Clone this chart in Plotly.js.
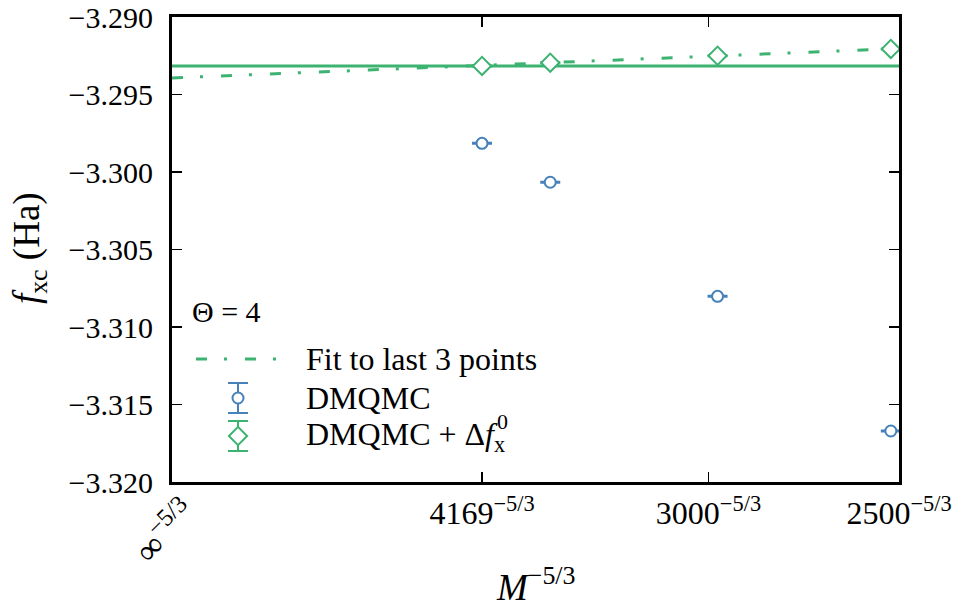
<!DOCTYPE html>
<html>
<head>
<meta charset="utf-8">
<script src="https://cdn.plot.ly/plotly-3.0.1.min.js"></script>
<style>
  html, body { margin: 0; padding: 0; background: #fff; }
  #chart { width: 963px; height: 612px; }
</style>
</head>
<body>
<div id="chart"></div>
<script>
// Basis-set size M for each calculation (x axis is M^(-5/3))
const basisM = [4169, 3700, 2970, 2517];
// Exchange-correlation free energy, Hartree
const fxcDMQMC = [-3.29815, -3.30066, -3.30802, -3.31671];
const fxcDMQMCErr = [0.00003, 0.00003, 0.00003, 0.00003];
const fxcCorrected = [-3.29316, -3.29295, -3.29250, -3.29206];
const fxcCorrectedErr = [0.00003, 0.00003, 0.00003, 0.00003];
// Reference level drawn as a solid horizontal line
const fxcReference = -3.29316;
// Tick positions, given as M values, and the axis limit
const tickM = [4169, 3000, 2500];
const tickLabels = ['4169<sup>−5/3</sup>', '3000<sup>−5/3</sup>', '2500<sup>−5/3</sup>'];
const yTicks = [-3.320, -3.315, -3.310, -3.305, -3.300, -3.295, -3.290];

const BLUE = 'rgb(70,130,185)';
const GREEN = 'rgb(60,179,113)';
const FONT = 'Liberation Serif, Times New Roman, serif';
const FIT_DASH = '11px,17px,3px,18px';

const toX = m => Math.pow(m, -5 / 3);
const xs = basisM.map(toX);
const xMax = toX(2500);

// Linear least-squares fit to the last three corrected points
function linFit(x, y) {
  const n = x.length;
  const mx = x.reduce((a, b) => a + b, 0) / n;
  const my = y.reduce((a, b) => a + b, 0) / n;
  let sxy = 0, sxx = 0;
  for (let i = 0; i < n; i++) {
    sxy += (x[i] - mx) * (y[i] - my);
    sxx += (x[i] - mx) * (x[i] - mx);
  }
  const slope = sxy / sxx;
  return { slope, intercept: my - slope * mx };
}
const fit = linFit(xs.slice(-3), fxcCorrected.slice(-3));
const fitX = [0, xMax];
const fitY = fitX.map(x => fit.intercept + fit.slope * x);

const traces = [
  {
    x: [0, xMax], y: [fxcReference, fxcReference],
    mode: 'lines', line: { color: GREEN, width: 3 },
    hoverinfo: 'skip', showlegend: false
  },
  {
    x: fitX, y: fitY,
    mode: 'lines', line: { color: GREEN, width: 3, dash: FIT_DASH },
    showlegend: false
  },
  {
    x: xs, y: fxcDMQMC,
    mode: 'markers',
    marker: { symbol: 'circle', size: 11, color: '#fff', line: { color: BLUE, width: 2 } },
    error_y: { type: 'data', array: fxcDMQMCErr, visible: true, color: BLUE, thickness: 2, width: 10 },
    showlegend: false
  },
  {
    x: xs, y: fxcCorrected,
    mode: 'markers',
    marker: { symbol: 'diamond', size: 14, color: '#fff', line: { color: GREEN, width: 2 } },
    error_y: { type: 'data', array: fxcCorrectedErr, visible: true, color: GREEN, thickness: 2, width: 10 },
    showlegend: false
  },
  // Legend key glyphs, drawn on a hidden unit overlay
  {
    x: [0.033, 0.1458], y: [0.2645, 0.2645], xaxis: 'x2', yaxis: 'y2',
    mode: 'lines', line: { color: GREEN, width: 3, dash: FIT_DASH },
    hoverinfo: 'skip', showlegend: false
  },
  {
    x: [0.0908], y: [0.1806], xaxis: 'x2', yaxis: 'y2',
    mode: 'markers',
    marker: { symbol: 'circle', size: 11, color: '#fff', line: { color: BLUE, width: 2 } },
    error_y: { type: 'constant', value: 0.0323, color: BLUE, thickness: 2, width: 10 },
    hoverinfo: 'skip', showlegend: false
  },
  {
    x: [0.0908], y: [0.0989], xaxis: 'x2', yaxis: 'y2',
    mode: 'markers',
    marker: { symbol: 'diamond', size: 14, color: '#fff', line: { color: GREEN, width: 2 } },
    error_y: { type: 'constant', value: 0.0323, color: GREEN, thickness: 2, width: 10 },
    hoverinfo: 'skip', showlegend: false
  }
];

const axisCommon = {
  showgrid: false, zeroline: false,
  showline: true, linecolor: '#000', linewidth: 3, mirror: 'ticks',
  ticks: 'inside', ticklen: 10, tickwidth: 1.5, tickcolor: '#000',
  tickfont: { family: FONT, size: 30, color: '#000' }
};

// Paper-anchored text helper
const note = (x, y, text, size, extra) => Object.assign({
  xref: 'paper', yref: 'paper', x, y, text, showarrow: false,
  xanchor: 'center', yanchor: 'middle', font: { size }
}, extra || {});

const layout = {
  width: 963, height: 612,
  margin: { l: 172, r: 64, t: 17, b: 130 },
  paper_bgcolor: '#fff', plot_bgcolor: '#fff',
  showlegend: false,
  font: { family: FONT, size: 30, color: '#000' },
  xaxis: Object.assign({}, axisCommon, {
    range: [0, xMax],
    tickmode: 'array',
    tickvals: [0].concat(tickM.map(toX)),
    ticktext: [''].concat(tickLabels),
    tickfont: { family: FONT, size: 32, color: '#000' },
    ticklabelstandoff: 1
  }),
  yaxis: Object.assign({}, axisCommon, {
    range: [-3.320, -3.290],
    tickmode: 'array',
    tickvals: yTicks,
    ticktext: yTicks.map(v => v.toFixed(3).replace('-', '−')),
    ticklabelstandoff: 10
  }),
  xaxis2: { overlaying: 'x', range: [0, 1], visible: false, fixedrange: true },
  yaxis2: { overlaying: 'y', range: [0, 1], visible: false, fixedrange: true },
  annotations: [
    note(-0.011, -0.104, '∞<sup>−5/3</sup>', 35, { textangle: -45 }),
    note(0.5007, -0.2215, '<i>M</i><sup>−5/3</sup>', 37),
    note(-0.1967, 0.503, '<i>f</i><sub>xc</sub> (Ha)', 37, { textangle: -90 }),
    // Legend title and entries
    note(0.0248, 0.3677, 'Θ = 4', 30, { xanchor: 'left' }),
    note(0.1809, 0.2645, 'Fit to last 3 points', 32, { xanchor: 'left' }),
    note(0.1809, 0.1806, 'DMQMC', 32, { xanchor: 'left' }),
    note(0.1809, 0.0989, 'DMQMC + Δ<i>f</i><sub>x</sub>', 32, { xanchor: 'left' }),
    note(0.4445, 0.131, '0', 22, { xanchor: 'left' })
  ]
};

Plotly.newPlot('chart', traces, layout, { displayModeBar: false, staticPlot: true });
</script>
</body>
</html>
